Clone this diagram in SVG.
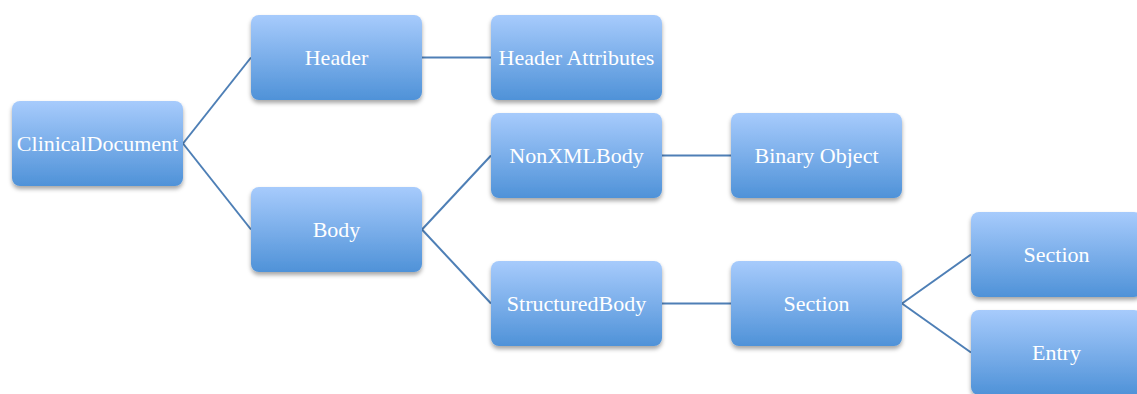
<svg xmlns="http://www.w3.org/2000/svg" width="1137" height="394" viewBox="0 0 1137 394">
  <defs>
    <linearGradient id="boxFill" x1="0" y1="0" x2="0" y2="1">
      <stop offset="0" stop-color="#a7cbfc"/>
      <stop offset="1" stop-color="#4f92d8"/>
    </linearGradient>
    <filter id="shadow" x="-10%" y="-10%" width="120%" height="130%">
      <feDropShadow dx="0" dy="3" stdDeviation="2" flood-color="#000" flood-opacity="0.35"/>
    </filter>
  </defs>
  <style>
    .box { fill: url(#boxFill); filter: url(#shadow); }
    .label { font-family: "Liberation Serif", "Times New Roman", serif; font-size: 22px; fill: #ffffff; text-anchor: middle; }
    .conn { stroke: #4e7fb6; stroke-width: 2; fill: none; }
  </style>
  <rect width="1137" height="394" fill="#ffffff"/>

  <g id="connectors">
    <line class="conn" x1="183" y1="143.5" x2="251" y2="57.5"/>
    <line class="conn" x1="183" y1="143.5" x2="251" y2="229.5"/>
    <line class="conn" x1="422" y1="57.5" x2="491" y2="57.5"/>
    <line class="conn" x1="422" y1="229.5" x2="491" y2="155.5"/>
    <line class="conn" x1="422" y1="229.5" x2="491" y2="303.5"/>
    <line class="conn" x1="662" y1="155.5" x2="731" y2="155.5"/>
    <line class="conn" x1="662" y1="303.5" x2="731" y2="303.5"/>
    <line class="conn" x1="902" y1="303.5" x2="971" y2="254.5"/>
    <line class="conn" x1="902" y1="303.5" x2="971" y2="352.5"/>
  </g>

  <g id="clinical-document">
    <rect class="box" x="12" y="101" width="171" height="85" rx="8"/>
    <text class="label" x="97.5" y="151">ClinicalDocument</text>
  </g>
  <g id="header">
    <rect class="box" x="251" y="15" width="171" height="85" rx="8"/>
    <text class="label" x="336.5" y="65">Header</text>
  </g>
  <g id="header-attributes">
    <rect class="box" x="491" y="15" width="171" height="85" rx="8"/>
    <text class="label" x="576.5" y="65">Header Attributes</text>
  </g>
  <g id="body">
    <rect class="box" x="251" y="187" width="171" height="85" rx="8"/>
    <text class="label" x="336.5" y="237">Body</text>
  </g>
  <g id="non-xml-body">
    <rect class="box" x="491" y="113" width="171" height="85" rx="8"/>
    <text class="label" x="576.5" y="163">NonXMLBody</text>
  </g>
  <g id="binary-object">
    <rect class="box" x="731" y="113" width="171" height="85" rx="8"/>
    <text class="label" x="816.5" y="163">Binary Object</text>
  </g>
  <g id="structured-body">
    <rect class="box" x="491" y="261" width="171" height="85" rx="8"/>
    <text class="label" x="576.5" y="311">StructuredBody</text>
  </g>
  <g id="section">
    <rect class="box" x="731" y="261" width="171" height="85" rx="8"/>
    <text class="label" x="816.5" y="311">Section</text>
  </g>
  <g id="sub-section">
    <rect class="box" x="971" y="212" width="171" height="85" rx="8"/>
    <text class="label" x="1056.5" y="262">Section</text>
  </g>
  <g id="entry">
    <rect class="box" x="971" y="310" width="171" height="85" rx="8"/>
    <text class="label" x="1056.5" y="360">Entry</text>
  </g>
</svg>
